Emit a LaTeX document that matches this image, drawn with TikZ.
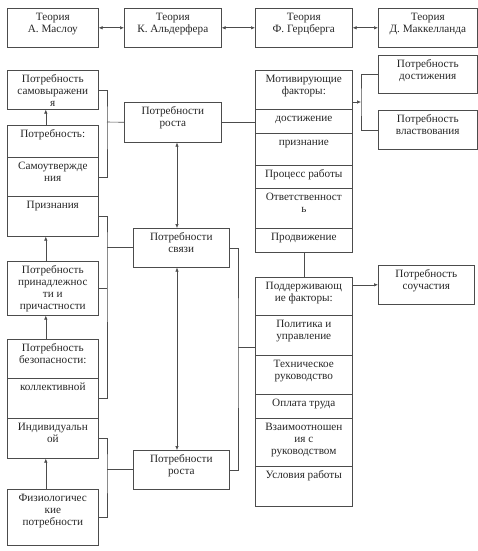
\documentclass[tikz,border=0pt]{standalone}
\usepackage{fontspec}
\setmainfont{Liberation Serif}
\usetikzlibrary{arrows.meta}

\newcommand\cellt[1]{\begin{tabular}[t]{@{}c@{}}#1\end{tabular}}

\tikzset{
  cell/.style={draw=black!70, line width=0.6pt, anchor=north west,
    inner xsep=1pt, inner ysep=3pt, text height=9pt, minimum width=#1,
    font=\fontsize{11.2}{12}\selectfont, text=black!85},
  cell/.default=91pt,
  link/.style={draw=black!70, line width=0.6pt},
  >={Latex[length=4pt,width=3.5pt]}
}

\begin{document}
\begin{tikzpicture}[x=1pt,y=-1pt]
  \useasboundingbox (0,0) rectangle (478,551);
  % theories
  \node[cell=91pt, text depth=24pt] (maslow) at (7,8) {\cellt{Теория\\А. Маслоу}};
  \node[cell=97pt, text depth=24pt] (alderfer) at (124,8) {\cellt{Теория\\К. Альдерфера}};
  \node[cell=97pt, text depth=24pt] (herz) at (255,8) {\cellt{Теория\\Ф. Герцберга}};
  \node[cell=99pt, text depth=24pt] (mccl) at (378,8) {\cellt{Теория\\Д. Маккелланда}};
  % Maslow column
  \node[cell, text depth=24pt] (selfexp) at (7,70) {\cellt{Потребность\\самовыражени\\я}};
  \node[cell, text depth=17pt] (needlbl) at (7,125) {\cellt{Потребность:}};
  \node[cell, text depth=24pt] (selfconf) at (7,157) {\cellt{Самоутвержде\\ния}};
  \node[cell, text depth=25pt] (recog) at (7,196) {\cellt{Признания}};
  \node[cell, text depth=39pt] (belong) at (7,261) {\cellt{Потребность\\принадлежнос\\ти и\\причастности}};
  \node[cell, text depth=24pt] (safety) at (7,339) {\cellt{Потребность\\безопасности:}};
  \node[cell, text depth=25pt] (collect) at (7,378) {\cellt{коллективной}};
  \node[cell, text depth=25pt] (indiv) at (7,418) {\cellt{Индивидуальн\\ой}};
  \node[cell, text depth=41pt] (physio) at (7,489) {\cellt{Физиологичес\\кие\\потребности}};
  % Alderfer column
  \node[cell=97pt, text depth=25pt] (growth1) at (124,102) {\cellt{Потребности\\роста}};
  \node[cell=96pt, text depth=24pt] (relat) at (133,228) {\cellt{Потребности\\связи}};
  \node[cell=96pt, text depth=24pt] (growth2) at (133,450) {\cellt{Потребности\\роста}};
  % Herzberg column
  \node[cell=97pt, text depth=24pt] (motivfac) at (255,70) {\cellt{Мотивирующие\\факторы:}};
  \node[cell=97pt, text depth=9pt] (achv) at (255,109) {\cellt{достижение}};
  \node[cell=97pt, text depth=17pt] (recogn) at (255,133) {\cellt{признание}};
  \node[cell=97pt, text depth=8pt] (process) at (255,165) {\cellt{Процесс работы}};
  \node[cell=97pt, text depth=25pt] (resp) at (255,188) {\cellt{Ответственност\\ь}};
  \node[cell=97pt, text depth=9pt] (promo) at (255,228) {\cellt{Продвижение}};
  \node[cell=97pt, text depth=23pt] (suppfac) at (255,277) {\cellt{Поддерживающ\\ие факторы:}};
  \node[cell=97pt, text depth=25pt] (policy) at (255,315) {\cellt{Политика и\\управление}};
  \node[cell=97pt, text depth=24pt] (tech) at (255,355) {\cellt{Техническое\\руководство}};
  \node[cell=97pt, text depth=9pt] (pay) at (255,394) {\cellt{Оплата труда}};
  \node[cell=97pt, text depth=33pt] (relmgr) at (255,418) {\cellt{Взаимоотношен\\ия с\\руководством}};
  \node[cell=97pt, text depth=25pt] (cond) at (255,466) {\cellt{Условия работы}};
  % McClelland column
  \node[cell=99pt, text depth=23pt] (achieve) at (378,55) {\cellt{Потребность\\достижения}};
  \node[cell=99pt, text depth=24pt] (power) at (378,110) {\cellt{Потребность\\властвования}};
  \node[cell=96pt, text depth=24pt] (part) at (378,265) {\cellt{Потребность\\соучастия}};

  \coordinate (b1) at (107,122);
  \coordinate (b2) at (107,247.5);
  \coordinate (b3) at (107,469.5);
  \coordinate (b4) at (177,0);
  \coordinate (b5) at (238,347);
  \coordinate (b6) at (361,102);

  \draw[link,<->] (maslow) -- (alderfer);
  \draw[link,<->] (alderfer) -- (herz);
  \draw[link,<->] (herz) -- (mccl);

  \draw[link,->] ([xshift=-7pt]needlbl.north) -- ([xshift=-7pt]selfexp.south);
  \draw[link,->] ([xshift=-7pt]belong.north) -- ([xshift=-7pt]recog.south);
  \draw[link,->] ([xshift=-7pt]safety.north) -- ([xshift=-7pt]belong.south);
  \draw[link,->] ([xshift=-7pt]physio.north) -- ([xshift=-7pt]indiv.south);

  \draw[link] (selfexp.east) -| (b1) |- (selfconf.east);
  \draw[link] (b1) -- (growth1.west);
  \draw[link] (recog.east) -| (b2) |- (collect.east);
  \draw[link] (belong.east) -- (belong.east -| b2);
  \draw[link] (b2) -- (b2 -| relat.west);
  \draw[link] (indiv.east) -| (b3) |- (physio.east);
  \draw[link] (b3) -- (b3 -| growth2.west);

  \draw[link,<->] (growth1.south -| b4) -- (relat.north -| b4);
  \draw[link,<->] (relat.south -| b4) -- (growth2.north -| b4);

  \draw[link] (relat.east) -| (b5) |- (growth2.east);
  \draw[link] (b5) -- (b5 -| policy.west);
  \draw[link] (growth1.east) -- (growth1.east -| achv.west);

  \draw[link] (promo) -- (suppfac);
  \draw[link,->] (b6 -| motivfac.east) -- (b6);
  \draw[link] (achieve.west) -| (b6) |- (power.west);
  \draw[link,->] (part.west -| suppfac.east) -- (part.west);
\end{tikzpicture}
\end{document}
